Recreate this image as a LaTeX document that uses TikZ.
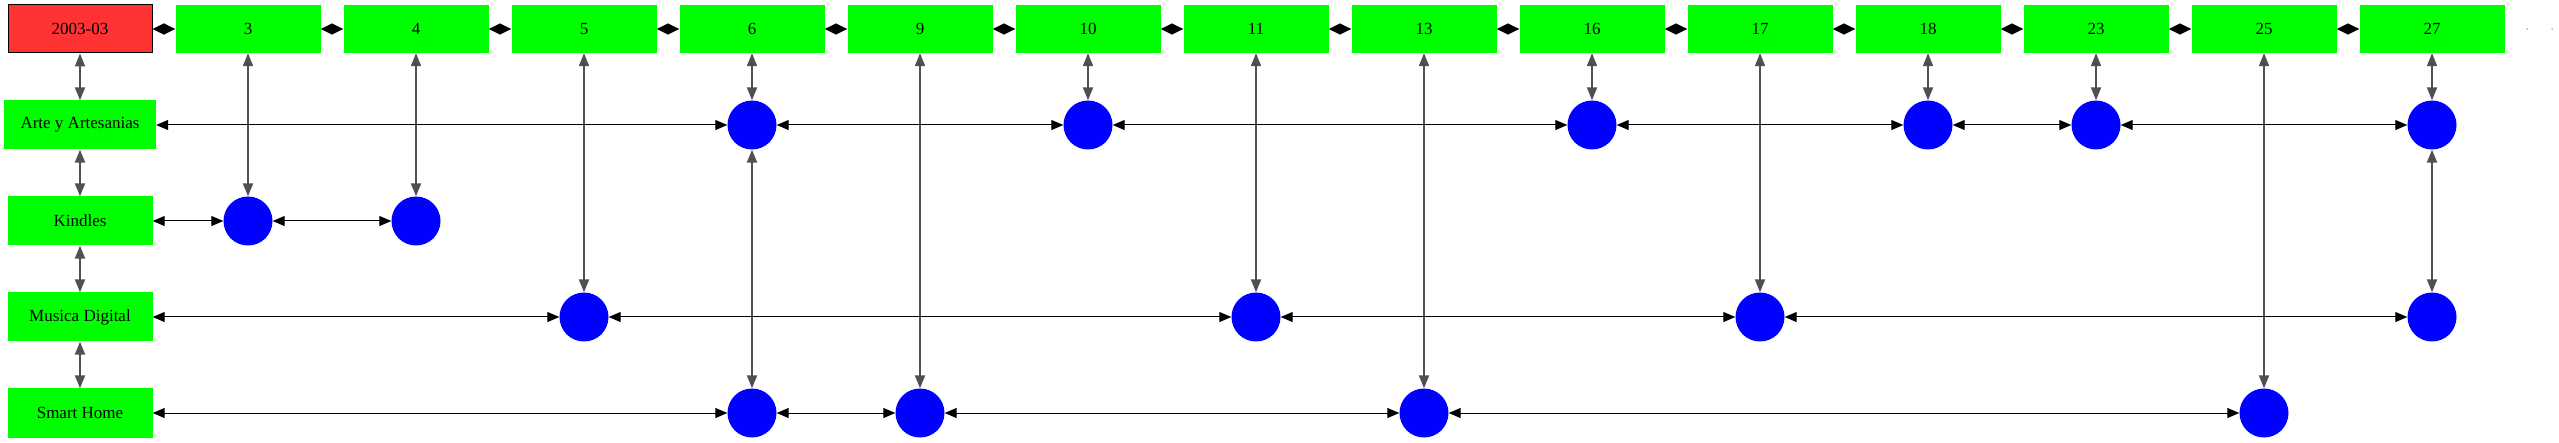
\documentclass[tikz,border=0pt]{standalone}
\usepackage{fontspec}
\setmainfont{Liberation Serif}
\usetikzlibrary{arrows.meta}
\definecolor{boxred}{HTML}{FF3333}
\definecolor{boxgreen}{HTML}{00FF00}
\definecolor{dotblue}{HTML}{0000FF}
\definecolor{vline}{HTML}{505050}
\tikzset{
  every node/.style={font=\fontsize{17}{20}\selectfont},
  datebox/.style={rectangle, fill=boxred, draw=black, line width=1pt, minimum width=144pt, minimum height=48pt, inner sep=0pt},
  colbox/.style={rectangle, fill=boxgreen, minimum width=145pt, minimum height=48pt, inner sep=0pt},
  rowbox/.style={rectangle, fill=boxgreen, minimum width=145pt, minimum height=49pt, inner sep=0pt},
  blob/.style={circle, fill=dotblue, minimum size=49pt, inner sep=0pt},
  tinydot/.style={circle, fill=gray, minimum size=1.5pt, inner sep=0pt},
  hlink/.style={draw=black, line width=1pt, {Triangle[length=12pt,width=10pt]}-{Triangle[length=12pt,width=10pt]}},
  vlink/.style={draw=vline, line width=1.8pt, {Triangle[length=13pt,width=10pt]}-{Triangle[length=13pt,width=10pt]}},
  toplink/.style={draw=black, line width=1pt, {Triangle[length=11.5pt,width=11pt]}-{Triangle[length=11.5pt,width=11pt]}},
}
\begin{document}
\begin{tikzpicture}[x=1pt,y=-1pt]
\useasboundingbox (0,0) rectangle (2559,443);
% top row
\node[datebox] (d) at (80,29) {2003-03};
\foreach \n/\i in {3/1,4/2,5/3,6/4,9/5,10/6,11/7,13/8,16/9,17/10,18/11,23/12,25/13,27/14} {
  \node[colbox] (c\n) at ({80+168*\i},29) {\n};
}
\node[tinydot] (e1) at (2527,29) {};
\node[tinydot] (e2) at (2552,29) {};
% row labels
\node[rowbox, minimum width=152pt] (rA) at (80,125) {Arte y Artesanias};
\node[rowbox] (rK) at (80,221) {Kindles};
\node[rowbox] (rM) at (80,317) {Musica Digital};
\node[rowbox] (rS) at (80,413) {Smart Home};
% circles
\foreach \n/\i in {6/4,10/6,16/9,18/11,23/12,27/14} { \node[blob] (A\n) at ({80+168*\i},125) {}; }
\foreach \n/\i in {3/1,4/2} { \node[blob] (K\n) at ({80+168*\i},221) {}; }
\foreach \n/\i in {5/3,11/7,17/10,27/14} { \node[blob] (M\n) at ({80+168*\i},317) {}; }
\foreach \n/\i in {6/4,9/5,13/8,25/13} { \node[blob] (S\n) at ({80+168*\i},413) {}; }
% top row links
\draw[toplink] (d) -- (c3);
\draw[toplink] (c3) -- (c4);
\draw[toplink] (c4) -- (c5);
\draw[toplink] (c5) -- (c6);
\draw[toplink] (c6) -- (c9);
\draw[toplink] (c9) -- (c10);
\draw[toplink] (c10) -- (c11);
\draw[toplink] (c11) -- (c13);
\draw[toplink] (c13) -- (c16);
\draw[toplink] (c16) -- (c17);
\draw[toplink] (c17) -- (c18);
\draw[toplink] (c18) -- (c23);
\draw[toplink] (c23) -- (c25);
\draw[toplink] (c25) -- (c27);
% left column links
\draw[vlink] (d) -- (rA);
\draw[vlink] (rA) -- (rK);
\draw[vlink] (rK) -- (rM);
\draw[vlink] (rM) -- (rS);
% vertical links
\draw[vlink] (c3) -- (K3);
\draw[vlink] (c4) -- (K4);
\draw[vlink] (c5) -- (M5);
\draw[vlink] (c6) -- (A6);
\draw[vlink] (A6) -- (S6);
\draw[vlink] (c9) -- (S9);
\draw[vlink] (c10) -- (A10);
\draw[vlink] (c11) -- (M11);
\draw[vlink] (c13) -- (S13);
\draw[vlink] (c16) -- (A16);
\draw[vlink] (c17) -- (M17);
\draw[vlink] (c18) -- (A18);
\draw[vlink] (c23) -- (A23);
\draw[vlink] (c25) -- (S25);
\draw[vlink] (c27) -- (A27);
\draw[vlink] (A27) -- (M27);
% horizontal links
\draw[hlink] (rA) -- (A6);
\draw[hlink] (A6) -- (A10);
\draw[hlink] (A10) -- (A16);
\draw[hlink] (A16) -- (A18);
\draw[hlink] (A18) -- (A23);
\draw[hlink] (A23) -- (A27);
\draw[hlink] (rK) -- (K3);
\draw[hlink] (K3) -- (K4);
\draw[hlink] (rM) -- (M5);
\draw[hlink] (M5) -- (M11);
\draw[hlink] (M11) -- (M17);
\draw[hlink] (M17) -- (M27);
\draw[hlink] (rS) -- (S6);
\draw[hlink] (S6) -- (S9);
\draw[hlink] (S9) -- (S13);
\draw[hlink] (S13) -- (S25);
\end{tikzpicture}
\end{document}
